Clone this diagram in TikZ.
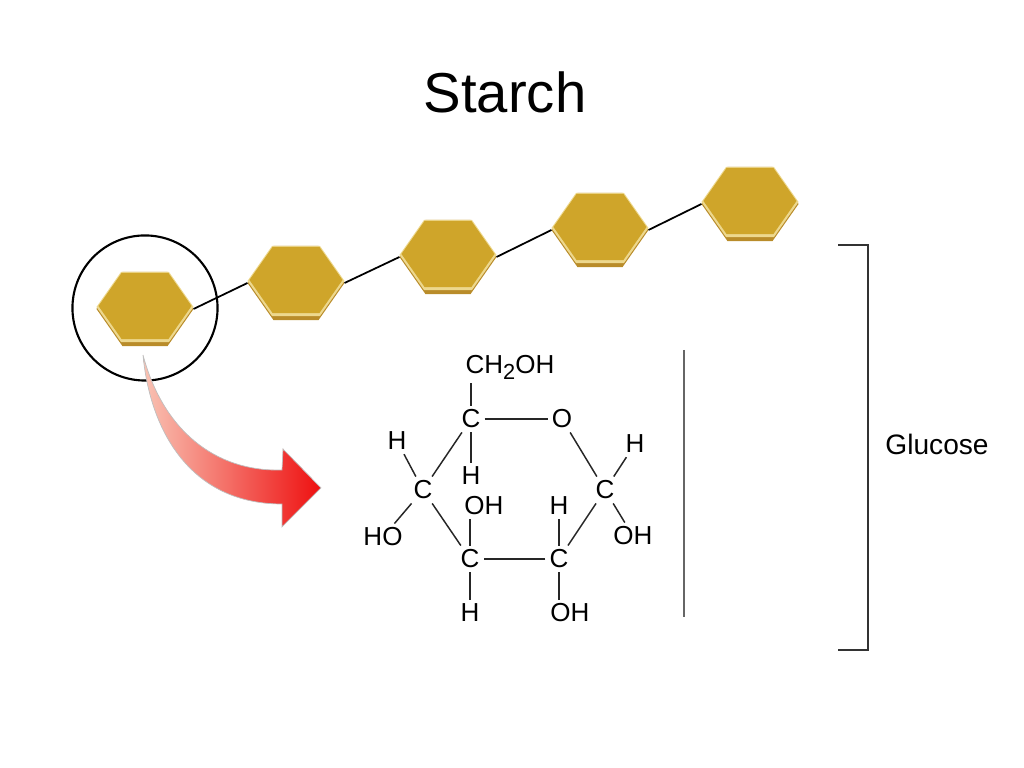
\documentclass[tikz,border=0pt]{standalone}
\usepackage{fontspec}
\setmainfont{Liberation Sans}
\usetikzlibrary{shapes.symbols}

\definecolor{goldface}{HTML}{CFA52A}
\definecolor{goldrim}{HTML}{EDD88E}
\definecolor{goldbase}{HTML}{B98C2A}
\definecolor{arrowpink}{HTML}{F9C3B4}
\definecolor{arrowred}{HTML}{EE1010}

\tikzset{
    hexbase/.style={shape=signal, signal to=east and west, signal from=nowhere, signal pointer angle=110, inner sep=0pt, outer sep=0pt, minimum width=#1 cm},
    atom/.style={inner sep=1pt, font=\fontsize{7.4}{8}\selectfont},
    bond/.style={black!85, line width=0.42pt},
    chain/.style={black, line width=0.5pt}
}

\begin{document}
\begin{tikzpicture}[x=0.01cm, y=-0.01cm]
    \useasboundingbox (0,0) rectangle (1024,768);

    % Title
    \node[inner sep=0pt, font=\fontsize{16}{18}\selectfont] (title) at (505,92) {Starch};

    % Hexagons
    \foreach \hexname/\hexx/\hexy in {hexa/145/309, hexb/296/283, hexc/448/257, hexd/600/230, hexe/750/204} {
        \node[hexbase=0.97, minimum height=0.74cm, fill=goldbase] (\hexname) at (\hexx,\hexy) {};
        \node[hexbase=0.97, minimum height=0.70cm, fill=goldrim] (\hexname-rim) at (\hexx,\hexy-2) {};
        \node[hexbase=0.93, minimum height=0.66cm, fill=goldface] (\hexname-face) at (\hexx,\hexy-3) {};
    }

    % Chain
    \draw[chain] (hexa.east) -- (hexb.west);
    \draw[chain] (hexb.east) -- (hexc.west);
    \draw[chain] (hexc.east) -- (hexd.west);
    \draw[chain] (hexd.east) -- (hexe.west);

    % Circle
    \node[circle, draw=black, line width=0.6pt, minimum size=1.45cm, inner sep=0pt] (ring) at (145,308) {};

    % Red arrow
    \path[left color=arrowpink, right color=arrowred, draw=black!25, line width=0.2pt]
        (143,355) .. controls (150,430) and (190,504) .. (282,504)
        -- (282,527) -- (321,488) -- (283,449) -- (282,470)
        .. controls (215,472) and (163,430) .. cycle;

    % Ring atoms
    \node[atom] (ctop) at (471,419) {C};
    \node[atom] (oring) at (562,419) {O};
    \node[atom] (cright) at (605,490) {C};
    \node[atom] (cbr) at (559,559) {C};
    \node[atom] (cbl) at (470,559) {C};
    \node[atom] (cleft) at (423,490) {C};

    % Side groups
    \node[atom] (chtwo) at (510,367) {CH\raisebox{-1.7pt}{\fontsize{6.2}{7}\selectfont 2}OH};
    \node[atom] (hleft) at (397,441) {H};
    \node[atom] (hright) at (635,444) {H};
    \node[atom] (hunder) at (471,476) {H};
    \node[atom] (ohmid) at (484,506) {OH};
    \node[atom] (hmid) at (559,506) {H};
    \node[atom] (holeft) at (383,537) {HO};
    \node[atom] (ohright) at (633,536) {OH};
    \node[atom] (hbot) at (470,613) {H};
    \node[atom] (ohbot) at (570,613) {OH};

    % Bonds
    \draw[bond] (ctop) -- (oring);
    \draw[bond] (oring) -- (cright);
    \draw[bond] (cright) -- (cbr);
    \draw[bond] (cbr) -- (cbl);
    \draw[bond] (cbl) -- (cleft);
    \draw[bond] (cleft) -- (ctop);
    \draw[bond] (ctop) -- (ctop |- chtwo.south);
    \draw[bond] (ctop) -- (hunder);
    \draw[bond] (cleft) -- (hleft);
    \draw[bond] (cleft) -- (holeft);
    \draw[bond] (cright) -- (hright);
    \draw[bond] (cright) -- (ohright);
    \draw[bond] (cbl) -- (cbl |- ohmid.south);
    \draw[bond] (cbl) -- (hbot);
    \draw[bond] (cbr) -- (hmid);
    \draw[bond] (cbr) -- (cbr |- ohbot.north);

    % Divider
    \coordinate (divtop) at (684,350);
    \coordinate (divbot) at (684,617);
    \draw[black!60, line width=0.3pt] (divtop) -- (divbot);

    % Bracket
    \node[inner sep=0pt, font=\fontsize{8}{10}\selectfont] (glucose) at (937,444) {Glucose};
    \coordinate (brtop) at (838,245);
    \coordinate (brbot) at (838,650);
    \draw[black!80, line width=0.35pt] (brtop) -- ++(30,0) -- ++(0,405) -- (brbot);
\end{tikzpicture}
\end{document}
